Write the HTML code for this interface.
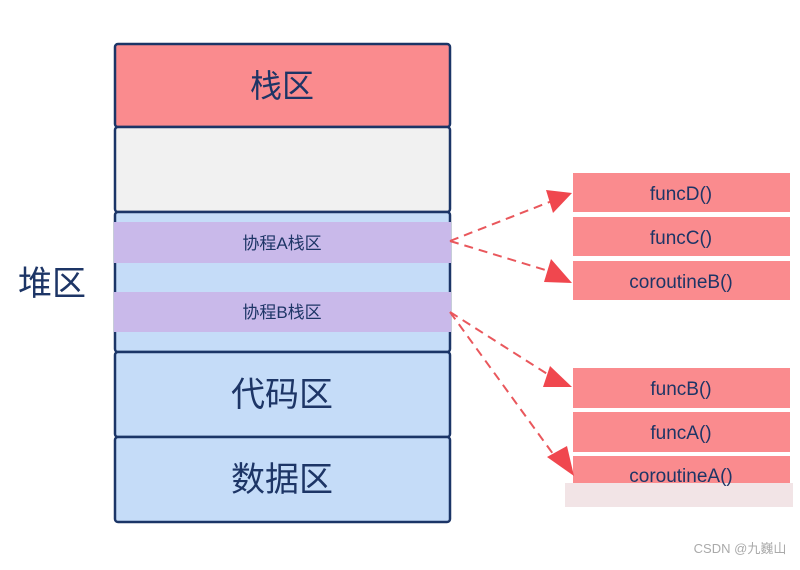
<!DOCTYPE html>
<html><head><meta charset="utf-8"><style>
body{margin:0;background:#fff;width:800px;height:565px;overflow:hidden}
svg text{font-family:"Liberation Sans","Noto Sans CJK SC",sans-serif;fill:#1d3566}
</style></head><body>
<svg width="800" height="565" viewBox="0 0 800 565" xmlns="http://www.w3.org/2000/svg">
<rect x="0" y="0" width="800" height="565" fill="#fff"/>
<!-- left column -->
<rect x="115" y="44" width="335" height="83" rx="3" fill="#fa8b8e" stroke="#1b3567" stroke-width="2.5"/>
<rect x="115" y="127" width="335" height="85" rx="3" fill="#f1f1f1" stroke="#1b3567" stroke-width="2.5"/>
<rect x="115" y="212" width="335" height="140" rx="3" fill="#c5dcf8" stroke="#1b3567" stroke-width="2.5"/>
<rect x="114" y="222" width="337" height="41" fill="#c9b9ea"/>
<rect x="114" y="292" width="337" height="40" fill="#c9b9ea"/>
<rect x="115" y="352" width="335" height="85" rx="3" fill="#c5dcf8" stroke="#1b3567" stroke-width="2.5"/>
<rect x="115" y="437" width="335" height="85" rx="3" fill="#c5dcf8" stroke="#1b3567" stroke-width="2.5"/>
<text x="282" y="97" font-size="32" text-anchor="middle">栈区</text>
<text x="282" y="249" font-size="17" text-anchor="middle">协程A栈区</text>
<text x="282" y="318" font-size="17" text-anchor="middle">协程B栈区</text>
<text x="282" y="406" font-size="34" text-anchor="middle">代码区</text>
<text x="282" y="491" font-size="34" text-anchor="middle">数据区</text>
<text x="52" y="295" font-size="34" text-anchor="middle">堆区</text>
<!-- right boxes -->
<g fill="#fa8b8e">
<rect x="573" y="173" width="217" height="39"/>
<rect x="573" y="217" width="217" height="39"/>
<rect x="573" y="261" width="217" height="39"/>
<rect x="573" y="368" width="217" height="40"/>
<rect x="573" y="412" width="217" height="40"/>
<rect x="573" y="456" width="217" height="30"/>
</g>
<rect x="565" y="483" width="228" height="24" fill="#f2e4e6"/>
<g font-size="19" text-anchor="middle">
<text x="681" y="200">funcD()</text>
<text x="681" y="244">funcC()</text>
<text x="681" y="288">coroutineB()</text>
<text x="681" y="395">funcB()</text>
<text x="681" y="439">funcA()</text>
<text x="681" y="482">coroutineA()</text>
</g>
<!-- arrows -->
<g stroke="#e9575c" stroke-width="2" stroke-dasharray="9,6" fill="none">
<line x1="450" y1="241" x2="552" y2="201"/>
<line x1="450" y1="241" x2="552" y2="272"/>
<line x1="450" y1="312" x2="552" y2="377"/>
<line x1="450" y1="312" x2="556" y2="458"/>
</g>
<g fill="#f0474e">
<polygon points="572,193 546,190 553,213"/>
<polygon points="572,283 544,282 551,259"/>
<polygon points="572,387 550,366 543,387"/>
<polygon points="574,476 547,457 567,446"/>
</g>
<text x="740" y="553" font-size="13" text-anchor="middle" style="fill:#aaa">CSDN @九巍山</text>
</svg>
</body></html>
